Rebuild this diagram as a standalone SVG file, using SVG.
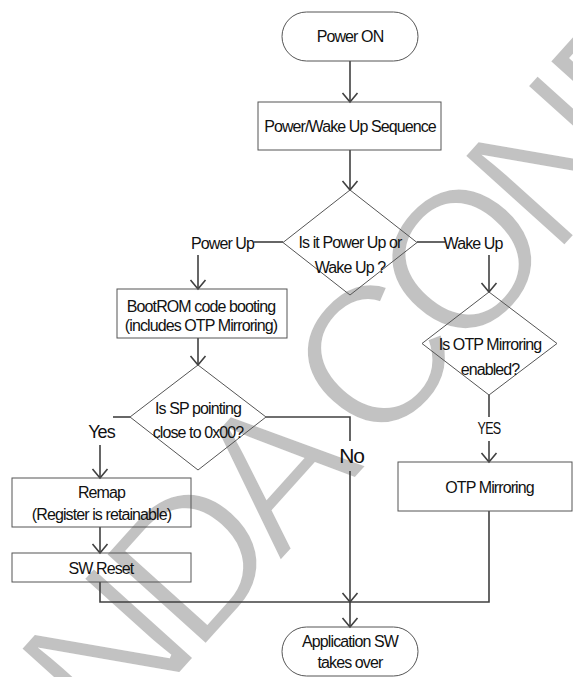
<svg xmlns="http://www.w3.org/2000/svg" width="573" height="677" viewBox="0 0 573 677">
<style>
.t{font-family:"Liberation Sans",Arial,sans-serif;font-size:16px;letter-spacing:-0.9px;fill:#111;text-anchor:middle}
.box{fill:none;stroke:#555;stroke-width:1}
.c{fill:none;stroke:#404040;stroke-width:1.6}
.wm{font-family:"Liberation Sans",Arial,sans-serif;font-size:198px;letter-spacing:-16px;fill:#c2c2c2;stroke:#fff;stroke-width:4px}
</style>
<defs>
<marker id="arr" markerUnits="userSpaceOnUse" orient="auto" markerWidth="20" markerHeight="20" viewBox="-10 -10 20 20" refX="0" refY="0" overflow="visible">
<path d="M-9,-7.5 L0,0 L-9,7.5" fill="none" stroke="#404040" stroke-width="1.6"/>
</marker>
</defs>
<rect width="573" height="677" fill="#fff"/>
<g id="watermark">
<text class="wm" transform="translate(110,752) rotate(-48)">NDA CONF</text>
</g>
<g id="connectors">
<line class="c" x1="350" y1="61" x2="350" y2="102" marker-end="url(#arr)"/>
<line class="c" x1="350" y1="150" x2="350" y2="190" marker-end="url(#arr)"/>
<line class="c" x1="254" y1="242" x2="283" y2="242"/>
<line class="c" x1="198" y1="255" x2="198" y2="289" marker-end="url(#arr)"/>
<line class="c" x1="417" y1="242" x2="445" y2="242"/>
<line class="c" x1="489" y1="255" x2="489" y2="292" marker-end="url(#arr)"/>
<line class="c" x1="198" y1="338" x2="198" y2="365" marker-end="url(#arr)"/>
<line class="c" x1="130" y1="417" x2="113" y2="417"/>
<line class="c" x1="100" y1="445" x2="100" y2="478" marker-end="url(#arr)"/>
<polyline class="c" points="266,417 350,417 350,441"/>
<line class="c" x1="350" y1="471" x2="350" y2="602" marker-end="url(#arr)"/>
<line class="c" x1="489" y1="395" x2="489" y2="417"/>
<line class="c" x1="489" y1="441" x2="489" y2="462" marker-end="url(#arr)"/>
<line class="c" x1="100" y1="527" x2="100" y2="553" marker-end="url(#arr)"/>
<polyline class="c" points="100,582 100,602 489,602 489,511"/>
<line class="c" x1="350" y1="602" x2="350" y2="627" marker-end="url(#arr)"/>
</g>
<g id="power-on">
<rect class="box" x="282" y="12" width="136" height="49" rx="24.5"/>
<text class="t" x="350" y="41.5">Power ON</text>
</g>
<g id="wake-seq">
<rect class="box" x="258" y="102" width="183" height="48"/>
<text class="t" x="350" y="132">Power/Wake Up Sequence</text>
</g>
<g id="decision-power">
<polygon class="box" points="350,190 417,242.5 350,295 283,242.5"/>
<text class="t" x="350" y="248">Is it Power Up or</text>
<text class="t" x="350" y="273">Wake Up ?</text>
</g>
<g id="label-power-up"><text class="t" x="222.5" y="248.5">Power Up</text></g>
<g id="label-wake-up"><text class="t" x="473" y="248.5">Wake Up</text></g>
<g id="bootrom">
<rect class="box" x="117" y="289" width="170" height="49"/>
<text class="t" x="201" y="311.5">BootROM code booting</text>
<text class="t" x="201" y="331">(includes OTP Mirroring)</text>
</g>
<g id="decision-sp">
<polygon class="box" points="198,365 266,417 198,470 130,417"/>
<text class="t" x="198" y="413.5">Is SP pointing</text>
<text class="t" x="198" y="438">close to 0x00?</text>
</g>
<g id="label-yes"><text class="t" x="101.5" y="437.5" style="font-size:18px">Yes</text></g>
<g id="label-no"><text class="t" x="351.5" y="463" style="font-size:21px;letter-spacing:-1.2px">No</text></g>
<g id="decision-otp">
<polygon class="box" points="489,292 557,343.5 489,395 422,343.5"/>
<text class="t" x="490" y="350">Is OTP Mirroring</text>
<text class="t" x="490" y="374.5">enabled?</text>
</g>
<g id="label-yes2"><text class="t" x="489" y="434" textLength="23" lengthAdjust="spacingAndGlyphs">YES</text></g>
<g id="otp-mirroring">
<rect class="box" x="398" y="462" width="174" height="49"/>
<text class="t" x="489.5" y="493">OTP Mirroring</text>
</g>
<g id="remap">
<rect class="box" x="12" y="478" width="179" height="49"/>
<text class="t" x="101.5" y="497.5">Remap</text>
<text class="t" x="101.5" y="520">(Register is retainable)</text>
</g>
<g id="sw-reset">
<rect class="box" x="12" y="553" width="179" height="29"/>
<text class="t" x="101" y="573.5">SW Reset</text>
</g>
<g id="app-sw">
<rect class="box" x="282" y="627" width="136" height="49" rx="24.5"/>
<text class="t" x="350" y="647">Application SW</text>
<text class="t" x="350" y="668">takes over</text>
</g>
</svg>
